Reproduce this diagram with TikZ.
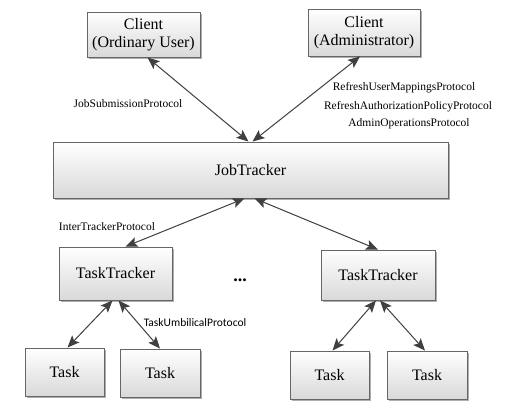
\documentclass[tikz,border=0pt]{standalone}
\usepackage{fontspec}
\setmainfont{Liberation Serif}
\newfontfamily\calib{Carlito}
\usetikzlibrary{arrows.meta,shadows}
\begin{document}
\begin{tikzpicture}[x=1pt,y=-1pt,
  box/.style={draw=black!60, line width=0.9pt, top color=white, bottom color=black!15,
    drop shadow={shadow xshift=2pt, shadow yshift=-2pt, fill=black!45, opacity=0.7},
    align=center, inner sep=0pt, font=\fontsize{16}{18}\selectfont},
  lnk/.style={draw=black!75, line width=1pt, {Stealth[length=12pt,width=10pt,inset=2.5pt]}-{Stealth[length=12pt,width=10pt,inset=2.5pt]}},
  lbl/.style={font=\fontsize{11.5}{13}\selectfont, inner sep=0pt}
]
\useasboundingbox (0,0) rectangle (515,408);
\fill[white] (0,0) rectangle (515,408);
\node[box, minimum width=113pt, minimum height=45pt] (c1) at (143.5,34.5) {Client\\(Ordinary User)};
\node[box, minimum width=112pt, minimum height=47pt] (c2) at (364,32.5) {Client\\(Administrator)};
\node[box, minimum width=395pt, minimum height=56pt] (jt) at (250.5,170) {JobTracker};
\node[box, minimum width=113pt, minimum height=53pt] (tt1) at (115.5,273.5) {TaskTracker};
\node[box, minimum width=114pt, minimum height=50pt] (tt2) at (378,275) {TaskTracker};
\node[box, minimum width=79pt, minimum height=48pt] (t1) at (64.5,372) {Task};
\node[box, minimum width=80pt, minimum height=48pt] (t2) at (160,373) {Task};
\node[box, minimum width=79pt, minimum height=48pt] (t3) at (329.5,375) {Task};
\node[box, minimum width=80pt, minimum height=48pt] (t4) at (427,375) {Task};

\draw[lnk] ([xshift=4pt]c1.south) -- ([xshift=-2pt]jt.north);
\draw[lnk] ([xshift=-4pt]c2.south) -- ([xshift=2pt]jt.north);
\draw[lnk] ([xshift=-6pt]jt.south) -- ([xshift=10pt]tt1.north);
\draw[lnk] ([xshift=4pt]jt.south) -- (tt2.north);
\draw[lnk] ([xshift=-3pt]tt1.south) -- ([xshift=3pt]t1.north);
\draw[lnk] ([xshift=3pt]tt1.south) -- (t2.north);
\draw[lnk] ([xshift=-2pt]tt2.south) -- ([xshift=3pt]t3.north);
\draw[lnk] ([xshift=2pt]tt2.south) -- ([xshift=-2pt]t4.north);

\node[lbl] (l1) at (128,104) {JobSubmissionProtocol};
\node[lbl] (l2) at (404,88) {RefreshUserMappingsProtocol};
\node[lbl] (l3) at (408,107) {RefreshAuthorizationPolicyProtocol};
\node[lbl] (l4) at (409,124) {AdminOperationsProtocol};
\node[lbl] (l5) at (107,227) {InterTrackerProtocol};
\node[lbl, font=\calib\fontsize{11.5}{13}\selectfont] (l6) at (195,323) {TaskUmbilicalProtocol};
\node[font=\bfseries\fontsize{18}{18}\selectfont, inner sep=0pt] (dots) at (240,280) {...};
\end{tikzpicture}
\end{document}
